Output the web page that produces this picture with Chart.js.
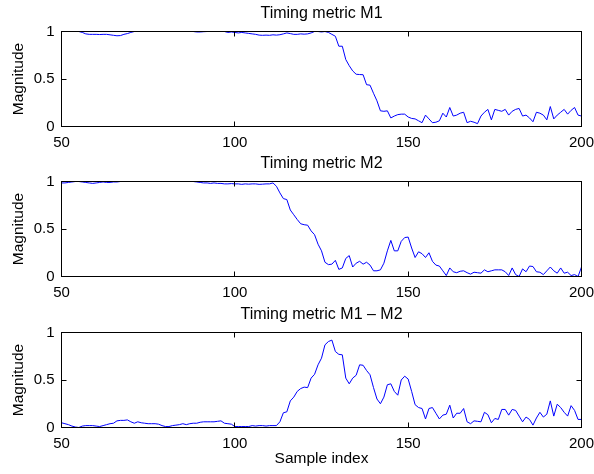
<!DOCTYPE html>
<html><head><meta charset="utf-8">
<script src="https://cdn.jsdelivr.net/npm/chart.js@4"></script>
<style>
html,body{margin:0;padding:0;background:#fff;width:594px;height:474px;overflow:hidden}
canvas{position:absolute;left:0}
</style></head><body>
<canvas id="c0" style="top:0px"></canvas>
<canvas id="c1" style="top:150px"></canvas>
<canvas id="c2" style="top:301px"></canvas>
<script>
// Sample index range 50..200
const firstSample = 50;
const lastSample = 200;

const xTicks = [50, 100, 150, 200];
const yTicks = [0, 0.5, 1];
const yTickLabels = ['0', '0.5', '1'];

const titles = ['Timing metric M1', 'Timing metric M2', 'Timing metric M1 \u2013 M2'];
const yLabel = 'Magnitude';
const xLabel = 'Sample index';

// Timing metric M1, samples 50..200
const m1 = [
  1.0,1.0,1.0,1.0,1.0,1.0,0.99,0.975,0.97,0.97,
  0.97,0.968,0.97,0.97,0.965,0.96,0.955,0.957,0.97,0.978,
  0.99,1.0,1.0,1.0,1.0,1.0,1.0,1.0,1.0,1.0,
  1.0,1.0,1.0,1.0,1.0,1.0,1.0,1.0,1.0,0.995,
  0.995,0.998,1.0,1.0,1.0,1.0,1.0,1.0,0.99,0.995,
  0.99,0.985,0.99,0.985,0.98,0.975,0.97,0.962,0.96,0.962,
  0.96,0.965,0.962,0.966,0.975,0.985,0.978,0.97,0.97,0.975,
  0.972,0.975,0.985,1.0,1.0,0.995,1.0,0.99,0.97,0.95,
  0.845,0.845,0.705,0.64,0.585,0.55,0.547,0.545,0.44,0.435,
  0.35,0.27,0.165,0.16,0.165,0.09,0.11,0.125,0.13,0.13,
  0.1,0.085,0.08,0.06,0.04,0.12,0.08,0.04,0.045,0.06,
  0.14,0.1,0.2,0.11,0.12,0.14,0.15,0.04,0.055,0.045,
  0.03,0.11,0.15,0.18,0.07,0.18,0.17,0.16,0.18,0.12,
  0.16,0.18,0.19,0.11,0.12,0.09,0.05,0.15,0.14,0.12,
  0.07,0.21,0.08,0.12,0.15,0.18,0.13,0.17,0.2,0.12,
  0.11
];

// Timing metric M2, samples 50..200
const m2 = [
  0.985,0.985,0.99,0.995,1.0,1.0,0.995,0.99,0.985,0.98,
  0.985,0.99,0.995,0.99,0.99,0.995,0.995,1.0,1.0,1.0,
  1.0,1.0,1.0,1.0,1.0,1.0,1.0,1.0,1.0,1.0,
  1.0,1.0,1.0,1.0,1.0,1.0,1.0,1.0,1.0,0.995,
  0.99,0.985,0.985,0.98,0.985,0.98,0.98,0.975,0.975,0.978,
  0.975,0.975,0.97,0.975,0.972,0.975,0.975,0.97,0.972,0.975,
  0.975,0.985,0.95,0.88,0.82,0.81,0.7,0.65,0.6,0.555,
  0.545,0.54,0.48,0.44,0.34,0.27,0.15,0.125,0.13,0.17,
  0.075,0.09,0.19,0.22,0.1,0.14,0.16,0.13,0.15,0.12,
  0.06,0.06,0.07,0.14,0.27,0.38,0.27,0.27,0.37,0.41,
  0.415,0.3,0.2,0.26,0.24,0.2,0.25,0.16,0.12,0.11,
  0.06,0.01,0.09,0.05,0.04,0.055,0.06,0.04,0.025,0.045,
  0.04,0.035,0.07,0.05,0.06,0.07,0.07,0.07,0.05,0.01,
  0.09,0.02,0.0,0.08,0.05,0.11,0.105,0.05,0.045,0.02,
  0.06,0.1,0.06,0.035,0.09,0.035,0.045,0.01,0.02,0.0,
  0.1
];

// Timing metric M1 - M2, samples 50..200
const diff = [
  0.05,0.04,0.03,0.015,0.005,0.0,0.015,0.02,0.02,0.02,
  0.015,0.01,0.02,0.03,0.04,0.045,0.07,0.075,0.075,0.08,
  0.06,0.045,0.06,0.05,0.045,0.04,0.04,0.04,0.035,0.02,
  0.01,0.01,0.02,0.025,0.03,0.04,0.03,0.04,0.045,0.045,
  0.055,0.06,0.06,0.06,0.06,0.065,0.07,0.045,0.04,0.035,
  0.01,0.01,0.01,0.01,0.01,0.02,0.015,0.02,0.02,0.015,
  0.02,0.02,0.02,0.06,0.155,0.165,0.28,0.32,0.38,0.41,
  0.425,0.42,0.52,0.56,0.66,0.73,0.87,0.905,0.92,0.8,
  0.77,0.765,0.52,0.46,0.52,0.55,0.66,0.655,0.6,0.555,
  0.42,0.3,0.25,0.32,0.45,0.46,0.38,0.34,0.5,0.54,
  0.51,0.38,0.24,0.21,0.2,0.09,0.2,0.21,0.15,0.09,
  0.13,0.14,0.235,0.1,0.15,0.15,0.2,0.06,0.04,0.07,
  0.065,0.06,0.16,0.135,0.05,0.095,0.085,0.19,0.19,0.13,
  0.19,0.18,0.12,0.06,0.11,0.085,0.025,0.1,0.16,0.11,
  0.14,0.28,0.12,0.245,0.21,0.16,0.12,0.23,0.18,0.085,
  0.085
];

const series = [m1, m2, diff];
const samples = [];
for (let s = firstSample; s <= lastSample; s++) samples.push(s);

const FONT = '"Liberation Sans", Arial, Helvetica, sans-serif';

const framePlugin = {
  id: 'frame',
  afterDatasetsDraw(chart) {
    const {ctx, chartArea: a, scales: {x, y}} = chart;
    const h = v => Math.round(v - 0.5) + 0.5;
    ctx.save();
    ctx.strokeStyle = '#000';
    ctx.lineWidth = 1;
    ctx.beginPath();
    x.ticks.forEach(t => {
      const px = h(x.getPixelForValue(t.value));
      ctx.moveTo(px, a.bottom); ctx.lineTo(px, a.bottom - 5);
      ctx.moveTo(px, a.top); ctx.lineTo(px, a.top + 5);
    });
    y.ticks.forEach(t => {
      const py = h(y.getPixelForValue(t.value));
      ctx.moveTo(a.left, py); ctx.lineTo(a.left + 5, py);
      ctx.moveTo(a.right, py); ctx.lineTo(a.right - 5, py);
    });
    ctx.stroke();
    ctx.strokeRect(a.left, a.top, a.right - a.left, a.bottom - a.top);
    ctx.restore();
  }
};

const heights = [150, 151, 173];

series.forEach((vals, i) => {
  const H = heights[i];
  const cv = document.getElementById('c' + i);
  cv.width = 594; cv.height = H;
  cv.style.width = '594px'; cv.style.height = H + 'px';
  const last = i === series.length - 1;
  new Chart(cv, {
    type: 'line',
    data: {
      datasets: [{
        data: vals.map((v, k) => ({x: samples[k], y: v})),
        borderColor: '#0000ff',
        borderWidth: 1,
        pointRadius: 0,
        fill: false,
        tension: 0
      }]
    },
    options: {
      responsive: false,
      animation: false,
      devicePixelRatio: 1,
      layout: {padding: {left: 0, right: 12.5, top: 0, bottom: 0}},
      plugins: {
        legend: {display: false},
        tooltip: {enabled: false},
        title: {
          display: true,
          text: titles[i],
          fullSize: false,
          color: '#000',
          font: {family: FONT, size: 16, weight: 'normal'},
          padding: {top: 4.4, bottom: 7.9}
        }
      },
      scales: {
        x: {
          type: 'linear',
          min: firstSample, max: lastSample,
          afterBuildTicks: s => { s.ticks = xTicks.map(v => ({value: v})); },
          afterFit: s => { s.height = H - 126.5; s.paddingLeft = 0; s.paddingRight = 0; },
          ticks: {color: '#000', font: {family: FONT, size: 15}, padding: 7, maxRotation: 0, autoSkip: false},
          grid: {display: false, drawTicks: false},
          border: {display: false},
          title: {
            display: last,
            text: xLabel,
            color: '#000',
            font: {family: FONT, size: 15.5},
            padding: {top: 0, bottom: 5.7}
          }
        },
        y: {
          type: 'linear',
          min: 0, max: 1,
          afterBuildTicks: s => { s.ticks = yTicks.map(v => ({value: v})); },
          afterFit: s => { s.width = 61.5; s.paddingTop = 0; s.paddingBottom = 0; },
          ticks: {
            color: '#000', font: {family: FONT, size: 15}, padding: 7,
            callback: (v) => yTickLabels[yTicks.indexOf(v)] ?? String(v)
          },
          grid: {display: false, drawTicks: false},
          border: {display: false},
          title: {
            display: true,
            text: yLabel,
            color: '#000',
            font: {family: FONT, size: 15.5},
            padding: {top: 9.7, bottom: 0}
          }
        }
      }
    },
    plugins: [framePlugin]
  });
});
</script>
</body></html>
